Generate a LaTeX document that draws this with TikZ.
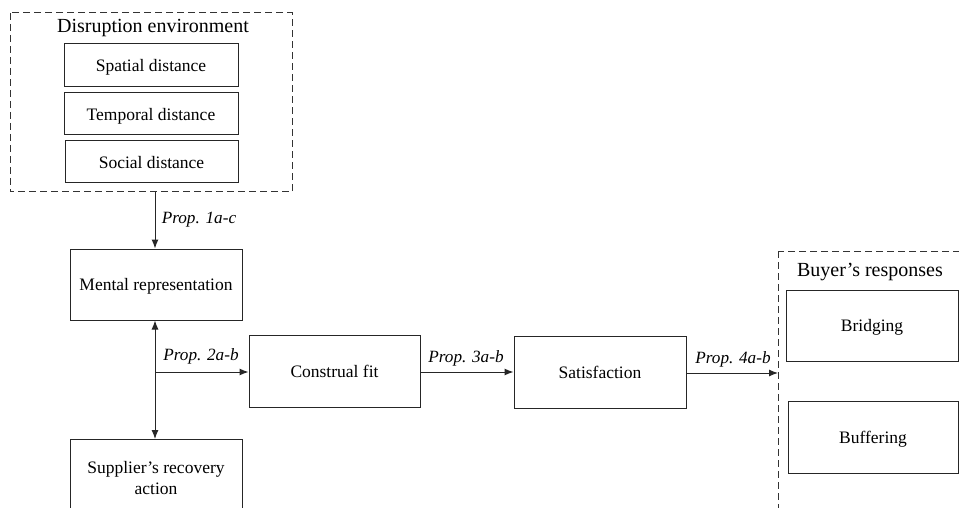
\documentclass[tikz,border=0pt]{standalone}
\usepackage{fontspec}
\setmainfont{Liberation Serif}
\usetikzlibrary{arrows.meta}
\begin{document}
\begin{tikzpicture}[x=1pt,y=-1pt,
  box/.style={draw=black!85,line width=1pt,fill=white,inner sep=0pt,text depth=0pt,font=\fontsize{17.5}{20}\selectfont,align=center},
  grp/.style={draw=black!80,line width=1pt,dash pattern=on 7pt off 4pt},
  title/.style={font=\fontsize{20}{22}\selectfont,inner sep=0pt,text depth=0pt},
  lab/.style={font=\fontsize{17.2}{19}\selectfont\itshape,inner sep=0pt,text depth=0pt},
  arr/.style={draw=black!85,line width=1pt,-{Latex[length=9pt,width=7pt]}}]
\useasboundingbox (0,0) rectangle (959,508);
\clip (0,0) rectangle (959,508);
% group boxes
\draw[grp] (10,13) rectangle (292,192);
\node[title] (envt) at (153,26) {Disruption environment};
\draw[grp] (778,251) rectangle (975,530);
\node[title] (buyt) at (870,270) {Buyer’s responses};
% nodes
\node[box,minimum width=174pt,minimum height=43pt] (spat) at (151,65.5) {Spatial distance};
\node[box,minimum width=174pt,minimum height=42pt] (temp) at (151,114) {Temporal distance};
\node[box,minimum width=173pt,minimum height=42pt] (soc) at (151.5,162) {Social distance};
\node[box,minimum width=172pt,minimum height=71pt] (ment) at (156,284.5) {Mental representation};
\node[box,minimum width=171pt,minimum height=72pt] (cons) at (334.5,371) {Construal fit};
\node[box,minimum width=172pt,minimum height=72pt] (sat) at (600,372) {Satisfaction};
\node[box,minimum width=172pt,minimum height=71pt] (brid) at (872,325.5) {Bridging};
\node[box,minimum width=170pt,minimum height=72pt] (buff) at (873,437) {Buffering};
\node[box,minimum width=172pt,minimum height=80pt,anchor=north] (supp) at (156,439) {};
\node[font=\fontsize{17.5}{21}\selectfont,align=center] (supt) at (156,478) {Supplier’s recovery\\action};
% connectors
\coordinate (envb) at (155,192);
\coordinate (jn) at (155,372);
\coordinate (buyl) at (778,373);
\draw[arr] (envb) -- (envb |- ment.north);
\draw[arr] (jn) -- (jn |- ment.south);
\draw[arr] (jn) -- (jn |- supp.north);
\draw[arr] (jn) -- (cons.west |- jn);
\draw[arr] (cons.east |- jn) -- (sat.west |- jn);
\draw[arr] (sat.east |- buyl) -- (buyl);
% labels
\node[lab] (p1) at (199,218) {Prop. 1a-c};
\node[lab] (p2) at (201,355) {Prop. 2a-b};
\node[lab] (p3) at (466,357) {Prop. 3a-b};
\node[lab] (p4) at (733,358) {Prop. 4a-b};
\end{tikzpicture}
\end{document}
